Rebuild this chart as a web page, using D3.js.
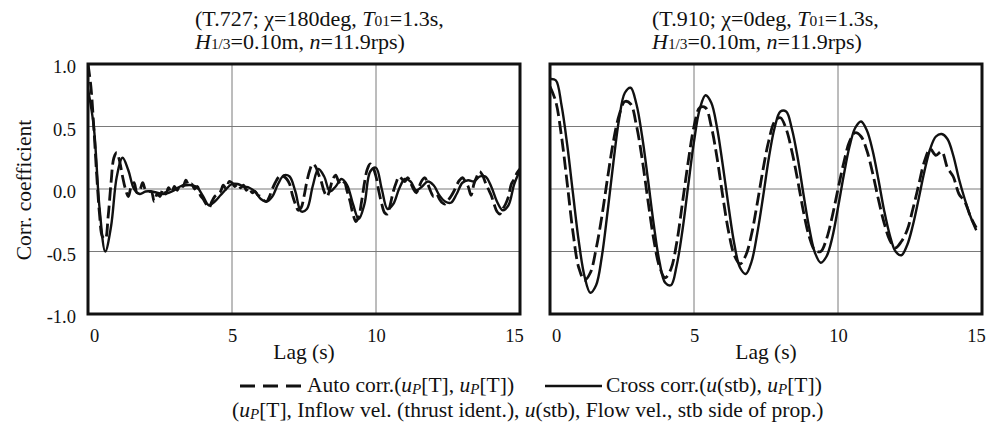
<!DOCTYPE html>
<html>
<head>
<meta charset="utf-8">
<script src="https://cdn.jsdelivr.net/npm/d3@7"></script>
<style>
  body { margin: 0; background: #fff; }
  svg text { font-family: "Liberation Serif", "Times New Roman", serif; fill: #111; }
</style>
</head>
<body>
<svg id="chart" width="995" height="429"></svg>
<script>
'use strict'

// ---- data ----
const lagTicks = [0, 5, 10, 15];
const corrTicks = [-1, -0.5, 0, 0.5, 1];
const corrLabels = ['-1.0', '-0.5', '0.0', '0.5', '1.0'];

// T.727, chi = 180deg : cross corr. sampled every 0.2 s, auto corr. every 0.1 s
const crossStepL = 0.2;
const crossL = [0.80, 0.50, -0.15, -0.50, -0.30, 0.10, 0.25, 0.15, 0.00, -0.04,
  -0.02, -0.02, -0.03, -0.04, -0.03, -0.01, 0.02, 0.03, 0.03, 0.01,
  -0.06, -0.13, -0.10, -0.05, 0.00, 0.04, 0.04, 0.02, 0.01, -0.02,
  -0.08, -0.10, -0.06, 0.04, 0.11, 0.10, -0.02, -0.18, -0.16, 0.02,
  0.16, 0.10, -0.02, 0.02, 0.08, 0.03, -0.12, -0.24, -0.12, 0.14,
  0.17, 0.00, -0.16, -0.12, 0.00, 0.08, 0.06, -0.01, 0.02, 0.06,
  0.03, -0.05, -0.10, -0.11, -0.04, 0.05, 0.07, 0.06, 0.10, 0.10,
  0.02, -0.10, -0.17, -0.13, 0.04, 0.15];
const autoStepL = 0.1;
const autoL = [1.00, 0.82, 0.50, 0.12, -0.20, -0.38, -0.40, -0.22, 0.05, 0.25,
  0.29, 0.22, 0.10, 0.00, -0.06, 0.02, 0.05, -0.03, -0.01, 0.05,
  -0.01, -0.02, -0.02, -0.10, -0.04, -0.06, 0.00, -0.04, 0.01, -0.03,
  0.02, -0.01, 0.04, 0.02, 0.07, 0.03, 0.04, 0.00, 0.02, -0.05,
  -0.08, -0.12, -0.15, -0.10, -0.06, -0.04, -0.02, 0.03, 0.00, 0.06,
  0.05, 0.02, 0.04, 0.01, 0.03, -0.01, 0.01, -0.03, -0.02, -0.05,
  -0.06, -0.09, -0.10, -0.06, 0.00, 0.05, 0.09, 0.11, 0.10, 0.08,
  0.04, -0.05, -0.12, -0.17, -0.15, -0.06, 0.06, 0.15, 0.20, 0.18,
  0.12, 0.06, -0.02, -0.06, 0.00, 0.08, 0.11, 0.06, 0.03, 0.05,
  -0.02, -0.10, -0.20, -0.26, -0.22, -0.10, 0.05, 0.16, 0.20, 0.17,
  0.10, -0.02, -0.12, -0.19, -0.20, -0.12, -0.02, 0.05, 0.10, 0.08,
  0.06, 0.09, 0.05, 0.00, -0.03, 0.02, 0.07, 0.09, 0.04, -0.02,
  -0.06, -0.04, -0.08, -0.11, -0.12, -0.09, -0.06, -0.02, 0.03, 0.07,
  0.09, 0.06, 0.02, -0.05, 0.04, 0.10, 0.14, 0.11, 0.05, 0.00,
  -0.05, -0.12, -0.18, -0.20, -0.16, -0.12, -0.06, 0.04, 0.08, 0.13,
  0.16];

// T.910, chi = 0deg : both sampled every 0.2 s, up to 14.8 s
const crossStepR = 0.2;
const crossR = [0.88, 0.87, 0.67, 0.35, -0.04, -0.42, -0.70, -0.83, -0.77, -0.54,
  -0.18, 0.21, 0.56, 0.77, 0.81, 0.68, 0.42, 0.08, -0.28, -0.58,
  -0.75, -0.77, -0.61, -0.33, 0.03, 0.38, 0.64, 0.75, 0.69, 0.49,
  0.19, -0.14, -0.44, -0.63, -0.68, -0.58, -0.35, -0.06, 0.25, 0.49,
  0.62, 0.62, 0.48, 0.25, -0.04, -0.31, -0.51, -0.59, -0.54, -0.39,
  -0.15, 0.11, 0.34, 0.49, 0.54, 0.47, 0.31, 0.08, -0.17, -0.37,
  -0.50, -0.53, -0.45, -0.29, -0.08, 0.14, 0.32, 0.42, 0.44, 0.40,
  0.27, 0.08, -0.08, -0.22, -0.33];
const autoStepR = 0.2;
const autoR = [0.82, 0.70, 0.42, 0.04, -0.35, -0.63, -0.73, -0.67, -0.48, -0.22,
  0.09, 0.38, 0.59, 0.70, 0.68, 0.51, 0.24, -0.09, -0.40, -0.62,
  -0.71, -0.64, -0.43, -0.11, 0.22, 0.50, 0.65, 0.65, 0.50, 0.25,
  -0.06, -0.34, -0.53, -0.60, -0.53, -0.36, -0.11, 0.16, 0.39, 0.54,
  0.57, 0.48, 0.30, 0.07, -0.18, -0.38, -0.49, -0.50, -0.40, -0.22,
  0.00, 0.21, 0.38, 0.45, 0.42, 0.31, 0.13, -0.08, -0.27, -0.41,
  -0.47, -0.42, -0.33, -0.16, 0.03, 0.22, 0.32, 0.27, 0.30, 0.17,
  0.10, -0.04, -0.10, -0.22, -0.31];

// text parts: [text, style]  'i' italic, 's' small, 'p' small italic lowered
const titleL = [
  [['(T.727; \u03c7=180deg, ', ''], ['T', 'i'], ['01', 's'], ['=1.3s,', '']],
  [['H', 'i'], ['1/3', 's'], ['=0.10m, ', ''], ['n', 'i'], ['=11.9rps)', '']]
];
const titleR = [
  [['(T.910; \u03c7=0deg, ', ''], ['T', 'i'], ['01', 's'], ['=1.3s,', '']],
  [['H', 'i'], ['1/3', 's'], ['=0.10m, ', ''], ['n', 'i'], ['=11.9rps)', '']]
];
const legendAuto = [['Auto corr.(', ''], ['u', 'i'], ['P', 'p'], ['[T], ', ''], ['u', 'i'], ['P', 'p'], ['[T])', '']];
const legendCross = [['Cross corr.(', ''], ['u', 'i'], ['(stb), ', ''], ['u', 'i'], ['P', 'p'], ['[T])', '']];
const legendNote = [['(', ''], ['u', 'i'], ['P', 'p'], ['[T], Inflow vel. (thrust ident.), ', ''], ['u', 'i'],
  ['(stb), Flow vel., stb side of prop.)', '']];

// ---- layout ----
const plotW = 432,
  yTop = 64,
  yBot = 314;
const fontFamily = '"Liberation Serif", "Times New Roman", serif';
const titleSize = '22px',
  textSize = '21.5px',
  tickSize = '18.5px';

const svg = d3.select('#chart');

function richText(sel, parts) {
  let lowered = false;
  parts.forEach(([t, s]) => {
    const ts = sel.append('tspan').text(t);
    if (lowered) { ts.attr('dy', -2); lowered = false; }
    if (s === 'i') ts.style('font-style', 'italic');
    if (s === 's') ts.style('font-size', '70%');
    if (s === 'p') {
      ts.style('font-size', '70%').style('font-style', 'italic').attr('dy', 2);
      lowered = true;
    }
  });
}

const y = d3.scaleLinear().domain([-1, 1]).range([yBot, yTop]);

const panels = [
  {x0: 88, title: titleL, titleX: 195, cross: crossL, crossStep: crossStepL, auto: autoL, autoStep: autoStepL, yAxis: true},
  {x0: 550, title: titleR, titleX: 652, cross: crossR, crossStep: crossStepR, auto: autoR, autoStep: autoStepR, yAxis: false}
];

panels.forEach((p, k) => {
  const x = d3.scaleLinear().domain([0, 15]).range([p.x0, p.x0 + plotW]);
  const g = svg.append('g');

  // grid
  g.append('g').selectAll('line')
    .data(lagTicks.slice(1, -1))
    .join('line')
    .attr('x1', d => x(d)).attr('x2', d => x(d))
    .attr('y1', yTop).attr('y2', yBot)
    .attr('stroke', '#7a7a7a').attr('stroke-width', 1);
  g.append('g').selectAll('line')
    .data(corrTicks.slice(1, -1))
    .join('line')
    .attr('x1', p.x0).attr('x2', p.x0 + plotW)
    .attr('y1', d => y(d)).attr('y2', d => y(d))
    .attr('stroke', '#7a7a7a').attr('stroke-width', 1);

  // curves
  const clipId = `clip${k}`;
  svg.append('clipPath').attr('id', clipId)
    .append('rect')
    .attr('x', p.x0).attr('y', yTop - 1)
    .attr('width', plotW).attr('height', yBot - yTop + 2);

  const lineOf = step => d3.line()
    .x((d, i) => x(i * step))
    .y(d => y(d))
    .curve(d3.curveCatmullRom.alpha(0.5));

  g.append('path')
    .attr('clip-path', `url(#${clipId})`)
    .attr('d', lineOf(p.crossStep)(p.cross))
    .attr('fill', 'none')
    .attr('stroke', '#111')
    .attr('stroke-width', 2.4)
    .attr('stroke-linejoin', 'round');
  g.append('path')
    .attr('clip-path', `url(#${clipId})`)
    .attr('d', lineOf(p.autoStep)(p.auto))
    .attr('fill', 'none')
    .attr('stroke', '#111')
    .attr('stroke-width', 2.8)
    .attr('stroke-dasharray', '13,5');

  // frame
  g.append('rect')
    .attr('x', p.x0).attr('y', yTop)
    .attr('width', plotW).attr('height', yBot - yTop)
    .attr('fill', 'none')
    .attr('stroke', '#111')
    .attr('stroke-width', 3);

  // x axis labels
  const xa = g.append('g')
    .attr('transform', `translate(0,${yBot + 15})`)
    .call(d3.axisBottom(x).tickValues(lagTicks).tickSize(0).tickPadding(0).tickFormat(d3.format('d')));
  xa.select('.domain').remove();
  xa.attr('font-size', null).attr('font-family', null);
  xa.selectAll('.tick text')
    .attr('font-family', fontFamily)
    .style('font-family', fontFamily)
    .style('font-size', tickSize)
    .attr('dx', d => d === 0 ? 6 : (d === 15 ? -6 : 0));

  g.append('text')
    .attr('x', p.x0 + plotW / 2).attr('y', 359)
    .attr('text-anchor', 'middle')
    .style('font-family', fontFamily)
    .style('font-size', textSize)
    .text('Lag (s)');

  // y axis labels
  if (p.yAxis) {
    const ya = g.append('g')
      .attr('transform', 'translate(76,3)')
      .call(d3.axisLeft(y).tickValues(corrTicks).tickSize(0).tickPadding(0)
        .tickFormat((d, i) => corrLabels[i]));
    ya.select('.domain').remove();
    ya.attr('font-size', null).attr('font-family', null);
    ya.selectAll('.tick text')
      .attr('font-family', fontFamily)
      .style('font-family', fontFamily)
      .style('font-size', tickSize);
  }

  // title
  p.title.forEach((parts, i) => {
    const t = g.append('text')
      .attr('x', p.titleX).attr('y', 26 + i * 23)
      .style('font-family', fontFamily)
      .style('font-size', titleSize);
    richText(t, parts);
  });
});

svg.append('text')
  .attr('transform', 'translate(31,190) rotate(-90)')
  .attr('text-anchor', 'middle')
  .style('font-family', fontFamily)
  .style('font-size', textSize)
  .text('Corr. coefficient');

// legend
const leg = svg.append('g');
leg.append('line')
  .attr('x1', 240).attr('x2', 302).attr('y1', 386).attr('y2', 386)
  .attr('stroke', '#111').attr('stroke-width', 2.8).attr('stroke-dasharray', '15,8');
richText(leg.append('text').attr('x', 307).attr('y', 392)
  .style('font-family', fontFamily).style('font-size', textSize), legendAuto);
leg.append('line')
  .attr('x1', 545).attr('x2', 602).attr('y1', 386).attr('y2', 386)
  .attr('stroke', '#111').attr('stroke-width', 2.4);
richText(leg.append('text').attr('x', 606).attr('y', 392)
  .style('font-family', fontFamily).style('font-size', textSize), legendCross);
richText(leg.append('text').attr('x', 232).attr('y', 417)
  .style('font-family', fontFamily).style('font-size', textSize), legendNote);
</script>
</body>
</html>
